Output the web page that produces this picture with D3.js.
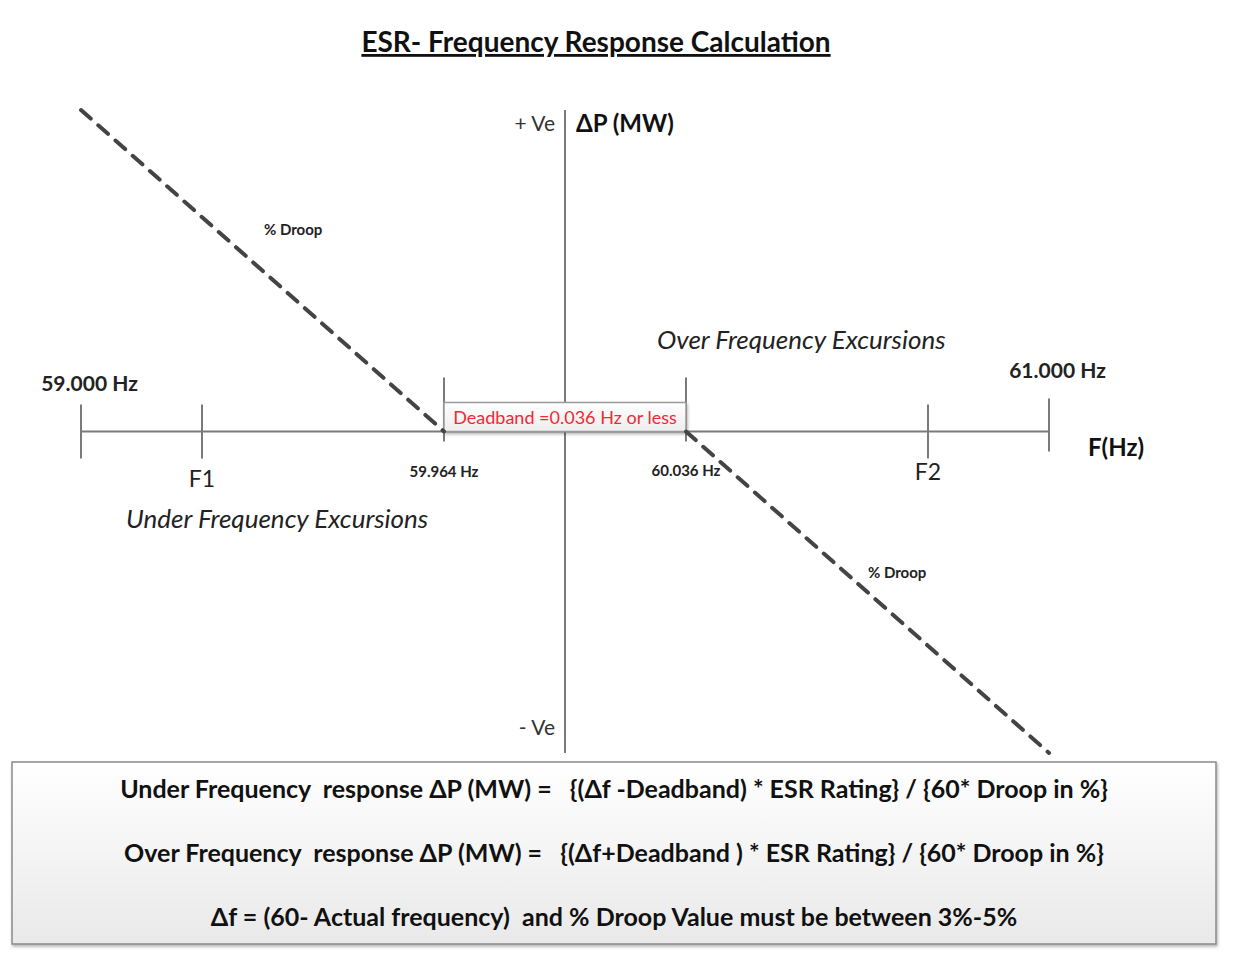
<!DOCTYPE html>
<html>
<head>
<meta charset="utf-8">
<script src="https://cdn.jsdelivr.net/npm/d3@7"></script>
<style>
  body { margin: 0; background: #fff; }
  text { font-family: Lato, "Noto Sans", sans-serif; white-space: pre; }
</style>
</head>
<body>
<svg id="chart"></svg>
<script>
// schematic frequency positions (0 = 59.000 Hz ... 8 = 61.000 Hz, 4 = 60 Hz)
const tickPos = [0, 1, 3, 5, 7, 8];
const tickLabels = ["59.000 Hz", "F1", "59.964 Hz", "60.036 Hz", "F2", "61.000 Hz"];
const tickTall = [true, true, false, false, true, true];
const centerPos = 4;
// deadband edges
const deadband = [3, 5];
const deadbandLabel = "Deadband =0.036 Hz or less";
// droop lines, in (position, ΔP) units
const droopLeft = [[0, 3], [3, 0]];
const droopRight = [[5, 0], [8, -3]];
const formulas = [
  "Under Frequency  response ΔP (MW) =   {(Δf -Deadband) * ESR Rating} / {60* Droop in %}",
  "Over Frequency  response ΔP (MW) =   {(Δf+Deadband ) * ESR Rating} / {60* Droop in %}",
  "Δf = (60- Actual frequency)  and % Droop Value must be between 3%-5%"
];

let svgWidth = 1239, svgHeight = 958;
let svg = d3.select("#chart").attr("width", svgWidth).attr("height", svgHeight);

let x = d3.scaleLinear().domain([0, 8]).range([81, 1049]);
let y = d3.scaleLinear().domain([-3, 3]).range([753, 110]);

let defs = svg.append("defs");
let g1 = defs.append("linearGradient").attr("id", "boxGrad").attr("x1", 0).attr("y1", 0).attr("x2", 0).attr("y2", 1);
g1.append("stop").attr("offset", "0%").attr("stop-color", "#ffffff");
g1.append("stop").attr("offset", "100%").attr("stop-color", "#e9e9e9");
let g2 = defs.append("linearGradient").attr("id", "dbGrad").attr("x1", 0).attr("y1", 0).attr("x2", 0).attr("y2", 1);
g2.append("stop").attr("offset", "0%").attr("stop-color", "#ffffff");
g2.append("stop").attr("offset", "100%").attr("stop-color", "#ededed");
let sh = defs.append("filter").attr("id", "shadow").attr("x", "-5%").attr("y", "-20%").attr("width", "110%").attr("height", "150%");
sh.append("feDropShadow").attr("dx", 1).attr("dy", 2).attr("stdDeviation", 1.5).attr("flood-color", "#000").attr("flood-opacity", 0.3);

// Title
svg.append("text")
  .attr("x", 596).attr("y", 52)
  .attr("text-anchor", "middle")
  .attr("font-size", "28px").attr("font-weight", "bold")
  .attr("fill", "#111")
  .style("text-decoration", "underline")
  .text("ESR- Frequency Response Calculation");

// horizontal axis
svg.append("line")
  .attr("x1", x(0)).attr("x2", x(8)).attr("y1", y(0)).attr("y2", y(0))
  .attr("stroke", "#7a7a7a").attr("stroke-width", 2);

// vertical axis
svg.append("line")
  .attr("x1", x(centerPos)).attr("x2", x(centerPos)).attr("y1", y(3)).attr("y2", y(-3))
  .attr("stroke", "#7a7a7a").attr("stroke-width", 2);

// ticks
svg.selectAll(".tick")
  .data(tickPos)
  .enter()
  .append("line")
  .attr("class", "tick")
  .attr("x1", function (d) { return x(d); })
  .attr("x2", function (d) { return x(d); })
  .attr("y1", function (d, i) { return tickTall[i] ? (d == 8 ? y(0) - 33 : y(0) - 27) : y(0) - 54; })
  .attr("y2", function (d, i) { return tickTall[i] ? (d == 8 ? y(0) + 20 : y(0) + 27) : y(0) + 10; })
  .attr("stroke", "#7a7a7a").attr("stroke-width", 2);

// deadband box
svg.append("rect")
  .attr("x", x(deadband[0])).attr("y", y(0) - 29)
  .attr("width", x(deadband[1]) - x(deadband[0])).attr("height", 29)
  .attr("fill", "url(#dbGrad)").attr("stroke", "#9a9a9a").attr("stroke-width", 1.5)
  .attr("filter", "url(#shadow)");
svg.append("text")
  .attr("x", (x(deadband[0]) + x(deadband[1])) / 2).attr("y", y(0) - 8)
  .attr("text-anchor", "middle")
  .attr("font-size", "18px").attr("fill", "#ee2a33")
  .text(deadbandLabel);

// droop lines
let line = d3.line().x(function (d) { return x(d[0]); }).y(function (d) { return y(d[1]); });
[droopLeft, droopRight].forEach(function (pts) {
  svg.append("path")
    .attr("d", line(pts))
    .attr("fill", "none").attr("stroke", "#444").attr("stroke-width", 4)
    .attr("stroke-dasharray", "13,10").attr("stroke-linecap", "round");
});

// tick labels
let lblStyle = [
  { dx: 8.5, dy: -41, size: 21, bold: true },
  { dx: 0, dy: 55, size: 23, bold: false },
  { dx: 0, dy: 45, size: 15, bold: true },
  { dx: 0, dy: 44, size: 15, bold: true },
  { dx: 0, dy: 48, size: 23, bold: false },
  { dx: 8.5, dy: -54, size: 21, bold: true }
];
svg.selectAll(".tlabel")
  .data(tickPos)
  .enter()
  .append("text")
  .attr("class", "tlabel")
  .attr("x", function (d, i) { return x(d) + lblStyle[i].dx; })
  .attr("y", function (d, i) { return y(0) + lblStyle[i].dy; })
  .attr("text-anchor", "middle")
  .attr("font-size", function (d, i) { return lblStyle[i].size + "px"; })
  .attr("font-weight", function (d, i) { return lblStyle[i].bold ? "bold" : "normal"; })
  .attr("fill", "#222")
  .text(function (d, i) { return tickLabels[i]; });

// axis names
svg.append("text").attr("x", x(8) + 39).attr("y", y(0) + 24)
  .attr("font-size", "24px").attr("font-weight", "bold").attr("fill", "#111").text("F(Hz)");
svg.append("text").attr("x", x(centerPos) + 11).attr("y", y(3) + 22)
  .attr("font-size", "24px").attr("font-weight", "bold").attr("fill", "#111").text("ΔP (MW)");
svg.append("text").attr("x", x(centerPos) - 10).attr("y", y(3) + 21)
  .attr("text-anchor", "end").attr("font-size", "21px").attr("fill", "#333").text("+ Ve");
svg.append("text").attr("x", x(centerPos) - 10).attr("y", y(-3) - 18)
  .attr("text-anchor", "end").attr("font-size", "21px").attr("fill", "#333").text("- Ve");

// droop labels
svg.append("text").attr("x", 264).attr("y", 235)
  .attr("font-size", "15px").attr("font-weight", "bold").attr("fill", "#222").text("% Droop");
svg.append("text").attr("x", 868).attr("y", 578)
  .attr("font-size", "15px").attr("font-weight", "bold").attr("fill", "#222").text("% Droop");

// excursion labels
svg.append("text").attr("x", 657).attr("y", 349)
  .attr("font-size", "26px").attr("font-style", "italic").attr("fill", "#222").text("Over Frequency Excursions");
svg.append("text").attr("x", 126).attr("y", 528)
  .attr("font-size", "26px").attr("font-style", "italic").attr("fill", "#222").text("Under Frequency Excursions");

// formula box
svg.append("rect")
  .attr("x", 12).attr("y", 762).attr("width", 1204).attr("height", 182)
  .attr("fill", "url(#boxGrad)").attr("stroke", "#8a8a8a").attr("stroke-width", 1.5)
  .attr("filter", "url(#shadow)");
svg.selectAll(".formula")
  .data(formulas)
  .enter()
  .append("text")
  .attr("class", "formula")
  .attr("x", 614)
  .attr("y", function (d, i) { return 798 + i * 64; })
  .attr("text-anchor", "middle")
  .attr("font-size", "25px").attr("font-weight", "bold").attr("fill", "#111")
  .text(function (d) { return d; });
</script>
</body>
</html>
